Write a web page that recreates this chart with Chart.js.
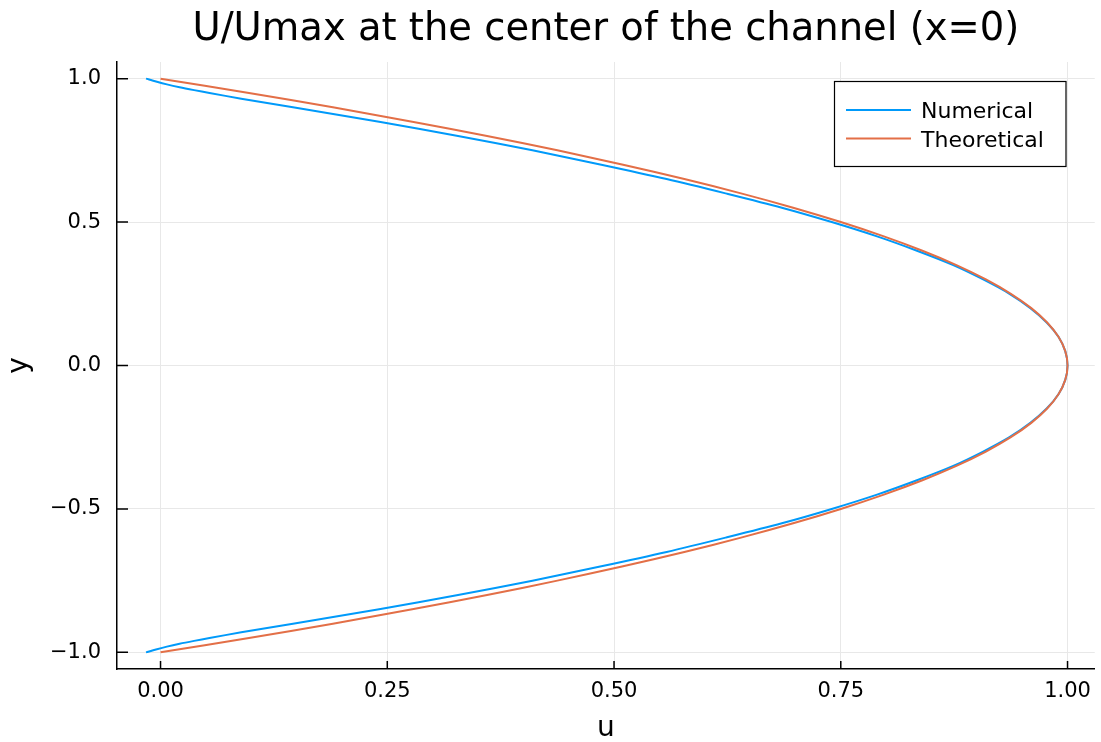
<!DOCTYPE html>
<html>
<head>
<meta charset="utf-8">
<title>U/Umax at the center of the channel (x=0)</title>
<script src="https://cdn.jsdelivr.net/npm/chart.js@4.4.1/dist/chart.umd.min.js"></script>
<style>
  html, body { margin: 0; padding: 0; background: #ffffff; }
  #wrap { width: 1101px; height: 742px; }
</style>
</head>
<body>
<div id="wrap"><canvas id="c" width="1101" height="742"></canvas></div>
<script>
// Velocity profile across the channel at x = 0 (y from wall to wall)
const yNumerical = [
  1.00, 0.99, 0.98, 0.97, 0.96, 0.95, 0.93, 0.90, 0.85, 0.80, 0.75, 0.70, 0.65,
  0.60, 0.55, 0.50, 0.45, 0.40, 0.35, 0.30, 0.25, 0.20, 0.15, 0.10, 0.05, 0.00,
  -0.05, -0.10, -0.15, -0.20, -0.25, -0.30, -0.35, -0.40, -0.45, -0.50, -0.55,
  -0.60, -0.65, -0.70, -0.75, -0.80, -0.85, -0.90, -0.93, -0.95, -0.96, -0.97,
  -0.98, -0.99, -1.00
];
const uNumerical = [
  -0.016, -0.005, 0.007, 0.021, 0.037, 0.054, 0.089, 0.146, 0.241, 0.328, 0.410,
  0.486, 0.558, 0.623, 0.685, 0.740, 0.790, 0.834, 0.874, 0.907, 0.936, 0.959,
  0.977, 0.990, 0.9975, 1.000,
  0.9975, 0.990, 0.977, 0.959, 0.936, 0.907, 0.874, 0.834, 0.790, 0.740, 0.685,
  0.623, 0.558, 0.486, 0.410, 0.328, 0.241, 0.146, 0.089, 0.054, 0.037, 0.021,
  0.007, -0.005, -0.016
];

const yTheoretical = [
  1.00, 0.95, 0.90, 0.85, 0.80, 0.75, 0.70, 0.65, 0.60, 0.55, 0.50, 0.45, 0.40,
  0.35, 0.30, 0.25, 0.20, 0.15, 0.10, 0.05, 0.00, -0.05, -0.10, -0.15, -0.20,
  -0.25, -0.30, -0.35, -0.40, -0.45, -0.50, -0.55, -0.60, -0.65, -0.70, -0.75,
  -0.80, -0.85, -0.90, -0.95, -1.00
];
const uTheoretical = [
  0.0000, 0.0975, 0.1900, 0.2775, 0.3600, 0.4375, 0.5100, 0.5775, 0.6400, 0.6975,
  0.7500, 0.7975, 0.8400, 0.8775, 0.9100, 0.9375, 0.9600, 0.9775, 0.9900, 0.9975,
  1.0000, 0.9975, 0.9900, 0.9775, 0.9600, 0.9375, 0.9100, 0.8775, 0.8400, 0.7975,
  0.7500, 0.6975, 0.6400, 0.5775, 0.5100, 0.4375, 0.3600, 0.2775, 0.1900, 0.0975,
  0.0000
];

const xTicks = [0.00, 0.25, 0.50, 0.75, 1.00];
const yTicks = [-1.0, -0.5, 0.0, 0.5, 1.0];

const seriesNames = ['Numerical', 'Theoretical'];
const seriesColors = ['#009AFA', '#E36F47'];

const FONT = '"DejaVu Sans", "Liberation Sans", sans-serif';
const titleText = 'U/Umax at the center of the channel (x=0)';
const xLabel = 'u';
const yLabel = 'y';

const toPoints = (us, ys) => us.map((u, i) => ({ x: u, y: ys[i] }));
const minusSign = s => s.replace('-', '\u2212');

// Title, axis guides, inward tick marks and framed legend
const decorations = {
  id: 'decorations',
  afterDatasetsDraw(chart) {
    const ctx = chart.ctx;
    const area = chart.chartArea;
    const xs = chart.scales.x, ys = chart.scales.y;
    ctx.save();

    // inward tick marks
    ctx.strokeStyle = '#000';
    ctx.lineWidth = 1.5;
    ctx.beginPath();
    xTicks.forEach(v => {
      const px = xs.getPixelForValue(v);
      ctx.moveTo(px, area.bottom);
      ctx.lineTo(px, area.bottom - 8);
    });
    yTicks.forEach(v => {
      const py = ys.getPixelForValue(v);
      ctx.moveTo(area.left, py);
      ctx.lineTo(area.left + 11, py);
    });
    ctx.stroke();

    // title
    ctx.fillStyle = '#000';
    ctx.textAlign = 'center';
    ctx.textBaseline = 'alphabetic';
    ctx.font = '38.5px ' + FONT;
    ctx.fillText(titleText, (area.left + area.right) / 2, 40);

    // axis guides
    ctx.font = '28px ' + FONT;
    ctx.fillText(xLabel, (area.left + area.right) / 2, 736);
    ctx.save();
    ctx.translate(27, (area.top + area.bottom) / 2);
    ctx.rotate(-Math.PI / 2);
    ctx.fillText(yLabel, 0, 0);
    ctx.restore();

    // legend
    const lx = 834.5, ly = 81.5, lw = 231.5, lh = 85;
    ctx.fillStyle = '#fff';
    ctx.fillRect(lx, ly, lw, lh);
    ctx.strokeStyle = '#000';
    ctx.lineWidth = 1.2;
    ctx.strokeRect(lx, ly, lw, lh);
    ctx.font = '22px ' + FONT;
    ctx.textAlign = 'left';
    chart.data.datasets.forEach((ds, i) => {
      const rowY = 110 + i * 28.5;
      ctx.strokeStyle = ds.borderColor;
      ctx.lineWidth = 2;
      ctx.beginPath();
      ctx.moveTo(846, rowY);
      ctx.lineTo(911, rowY);
      ctx.stroke();
      ctx.fillStyle = '#000';
      ctx.fillText(ds.label, 921, rowY + 8);
    });
    ctx.restore();
  }
};

new Chart(document.getElementById('c'), {
  type: 'scatter',
  data: {
    datasets: [
      {
        label: seriesNames[0],
        data: toPoints(uNumerical, yNumerical),
        borderColor: seriesColors[0],
        backgroundColor: seriesColors[0],
        showLine: true,
        pointRadius: 0,
        borderWidth: 2,
        tension: 0.3,
        order: 1
      },
      {
        label: seriesNames[1],
        data: toPoints(uTheoretical, yTheoretical),
        borderColor: seriesColors[1],
        backgroundColor: seriesColors[1],
        showLine: true,
        pointRadius: 0,
        borderWidth: 2,
        tension: 0.3,
        order: 0
      }
    ]
  },
  options: {
    responsive: false,
    animation: false,
    layout: { padding: { top: 62, right: 3, left: 0, bottom: 0 } },
    plugins: {
      legend: { display: false },
      title: { display: false },
      tooltip: { enabled: false }
    },
    scales: {
      x: {
        type: 'linear',
        min: -0.048,
        max: 1.030,
        afterFit(scale) { scale.height = 73; },
        afterBuildTicks(scale) { scale.ticks = xTicks.map(v => ({ value: v })); },
        grid: { color: '#e8e8e8', lineWidth: 1, drawTicks: false },
        border: { display: true, color: '#000', width: 1.5 },
        ticks: {
          color: '#000',
          padding: 10,
          font: { family: FONT, size: 21 },
          callback: v => minusSign(Number(v).toFixed(2))
        }
      },
      y: {
        type: 'linear',
        min: -1.058,
        max: 1.058,
        afterFit(scale) { scale.width = 117; },
        afterBuildTicks(scale) { scale.ticks = yTicks.map(v => ({ value: v })); },
        grid: { color: '#e8e8e8', lineWidth: 1, drawTicks: false },
        border: { display: true, color: '#000', width: 1.5 },
        ticks: {
          color: '#000',
          padding: 16,
          font: { family: FONT, size: 21 },
          callback: v => minusSign(Number(v).toFixed(1))
        }
      }
    }
  },
  plugins: [decorations]
});
</script>
</body>
</html>
